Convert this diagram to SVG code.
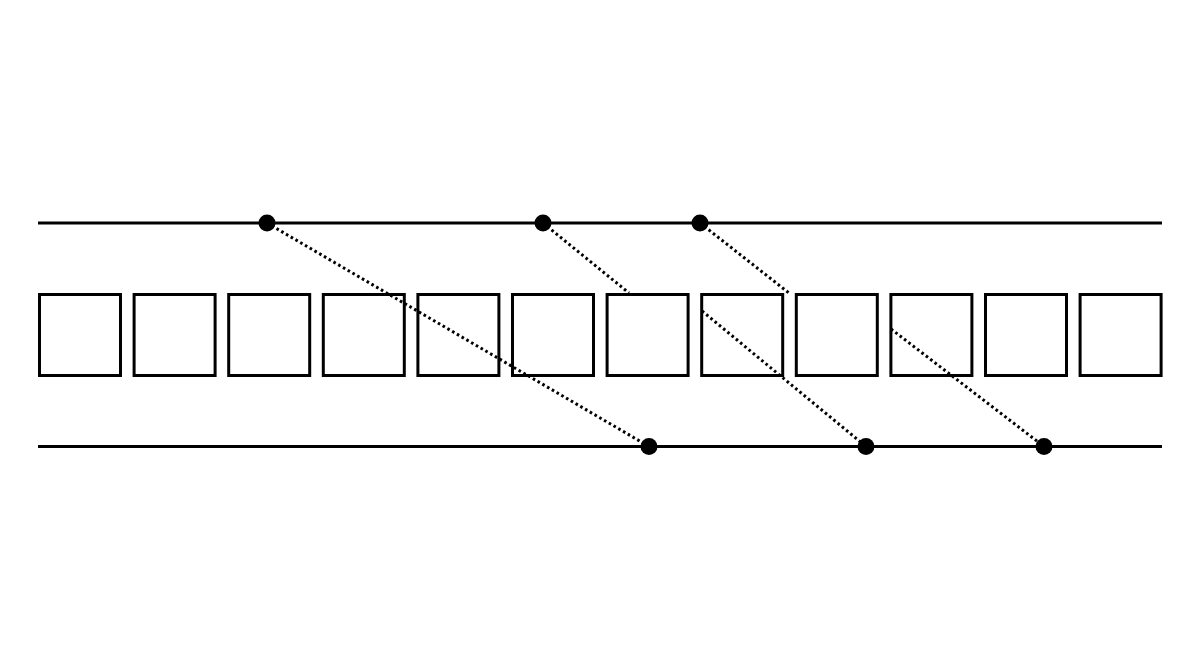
<svg xmlns="http://www.w3.org/2000/svg" width="1200" height="670" viewBox="0 0 1200 670">
<style>
.rail{stroke:#000;stroke-width:3;fill:none}
.box{stroke:#000;stroke-width:3;fill:#fff}
.dot{fill:#000}
.link{stroke:#000;stroke-width:3;stroke-dasharray:2.6 2.9;fill:none}
</style>
<rect width="1200" height="670" fill="#fff"/>
<g id="rails">
<line class="rail" x1="38" y1="223" x2="1162" y2="223"/>
<line class="rail" x1="38" y1="446.5" x2="1162" y2="446.5"/>
</g>
<g id="boxes">
<rect id="box1" class="box" x="39.5" y="294.5" width="81" height="81"/>
<rect id="box2" class="box" x="134.1" y="294.5" width="81" height="81"/>
<rect id="box3" class="box" x="228.7" y="294.5" width="81" height="81"/>
<rect id="box4" class="box" x="323.3" y="294.5" width="81" height="81"/>
<rect id="box5" class="box" x="417.9" y="294.5" width="81" height="81"/>
<rect id="box6" class="box" x="512.5" y="294.5" width="81" height="81"/>
<rect id="box7" class="box" x="607.1" y="294.5" width="81" height="81"/>
<rect id="box8" class="box" x="701.7" y="294.5" width="81" height="81"/>
<rect id="box9" class="box" x="796.3" y="294.5" width="81" height="81"/>
<rect id="box10" class="box" x="890.9" y="294.5" width="81" height="81"/>
<rect id="box11" class="box" x="985.5" y="294.5" width="81" height="81"/>
<rect id="box12" class="box" x="1080.1" y="294.5" width="81" height="81"/>
</g>
<g id="connectors">
<line class="link" x1="267" y1="223" x2="649" y2="446.5"/>
<line class="link" x1="543" y1="223" x2="629" y2="293"/>
<line class="link" x1="702" y1="311" x2="866" y2="446.5"/>
<line class="link" x1="700" y1="223" x2="789" y2="293"/>
<line class="link" x1="891" y1="329" x2="1044" y2="446.5"/>
</g>
<g id="points">
<circle class="dot" cx="267" cy="223" r="8.5"/>
<circle class="dot" cx="543" cy="223" r="8.5"/>
<circle class="dot" cx="700" cy="223" r="8.5"/>
<circle class="dot" cx="649" cy="446.5" r="8.5"/>
<circle class="dot" cx="866" cy="446.5" r="8.5"/>
<circle class="dot" cx="1044" cy="446.5" r="8.5"/>
</g>
</svg>
